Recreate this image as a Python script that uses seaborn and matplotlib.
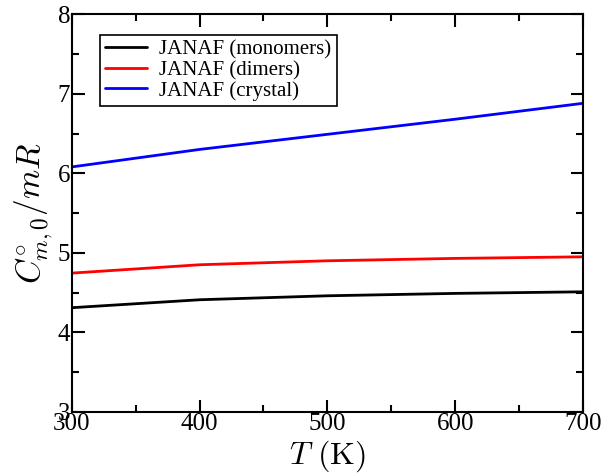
import numpy as np
import pandas as pd
import matplotlib
matplotlib.use("Agg")
import matplotlib.pyplot as plt
import seaborn as sns
from matplotlib.ticker import MultipleLocator

T = [300, 400, 500, 600, 700]
monomers = [4.31, 4.41, 4.46, 4.49, 4.51]
dimers = [4.745, 4.85, 4.90, 4.93, 4.95]
crystal = [6.08, 6.30, 6.49, 6.68, 6.88]
labels = ["JANAF (monomers)", "JANAF (dimers)", "JANAF (crystal)"]
colors = ["black", "red", "blue"]

sns.set_theme(style="white")
plt.rcParams['font.family'] = ['Liberation Serif', 'DejaVu Serif']
plt.rcParams['mathtext.fontset'] = 'cm'
plt.rcParams['text.color'] = 'black'
plt.rcParams['axes.labelcolor'] = 'black'
plt.rcParams['xtick.color'] = 'black'
plt.rcParams['ytick.color'] = 'black'

df = pd.DataFrame({"T": T * 3,
                   "C": monomers + dimers + crystal,
                   "series": [labels[0]] * 5 + [labels[1]] * 5 + [labels[2]] * 5})

fig = plt.figure(figsize=(6.08, 4.74), dpi=100)
ax = fig.add_axes([0.118, 0.131, 0.841, 0.839])
sns.lineplot(data=df, x="T", y="C", hue="series", palette=colors, linewidth=2, ax=ax)

ax.set_xlim(300, 700)
ax.set_ylim(3, 8)
ax.xaxis.set_major_locator(MultipleLocator(100))
ax.xaxis.set_minor_locator(MultipleLocator(50))
ax.yaxis.set_major_locator(MultipleLocator(1))
ax.yaxis.set_minor_locator(MultipleLocator(0.5))
ax.tick_params(which='both', direction='in', top=True, right=True, bottom=True, left=True,
               color='black', width=1.5)
ax.tick_params(which='major', length=9, labelsize=18, pad=1)
ax.tick_params(which='minor', length=5)
for s in ax.spines.values():
    s.set_color('black')
    s.set_linewidth(1.5)

ax.set_xlabel(r"$T\ (\mathrm{K})$", fontsize=23, labelpad=2)
ax.set_ylabel(r"$C^{\circ}_{m,0}/mR$", fontsize=24, labelpad=2)

leg = ax.legend(loc='upper left', bbox_to_anchor=(0.035, 0.975), fontsize=15,
                frameon=True, fancybox=False, edgecolor='black', handlelength=2.0,
                borderpad=0.25, labelspacing=0.05, handletextpad=0.6, framealpha=1)
leg.get_frame().set_linewidth(1.2)
for t in leg.get_texts():
    t.set_color('black')

fig.savefig("out.png", dpi=100)
